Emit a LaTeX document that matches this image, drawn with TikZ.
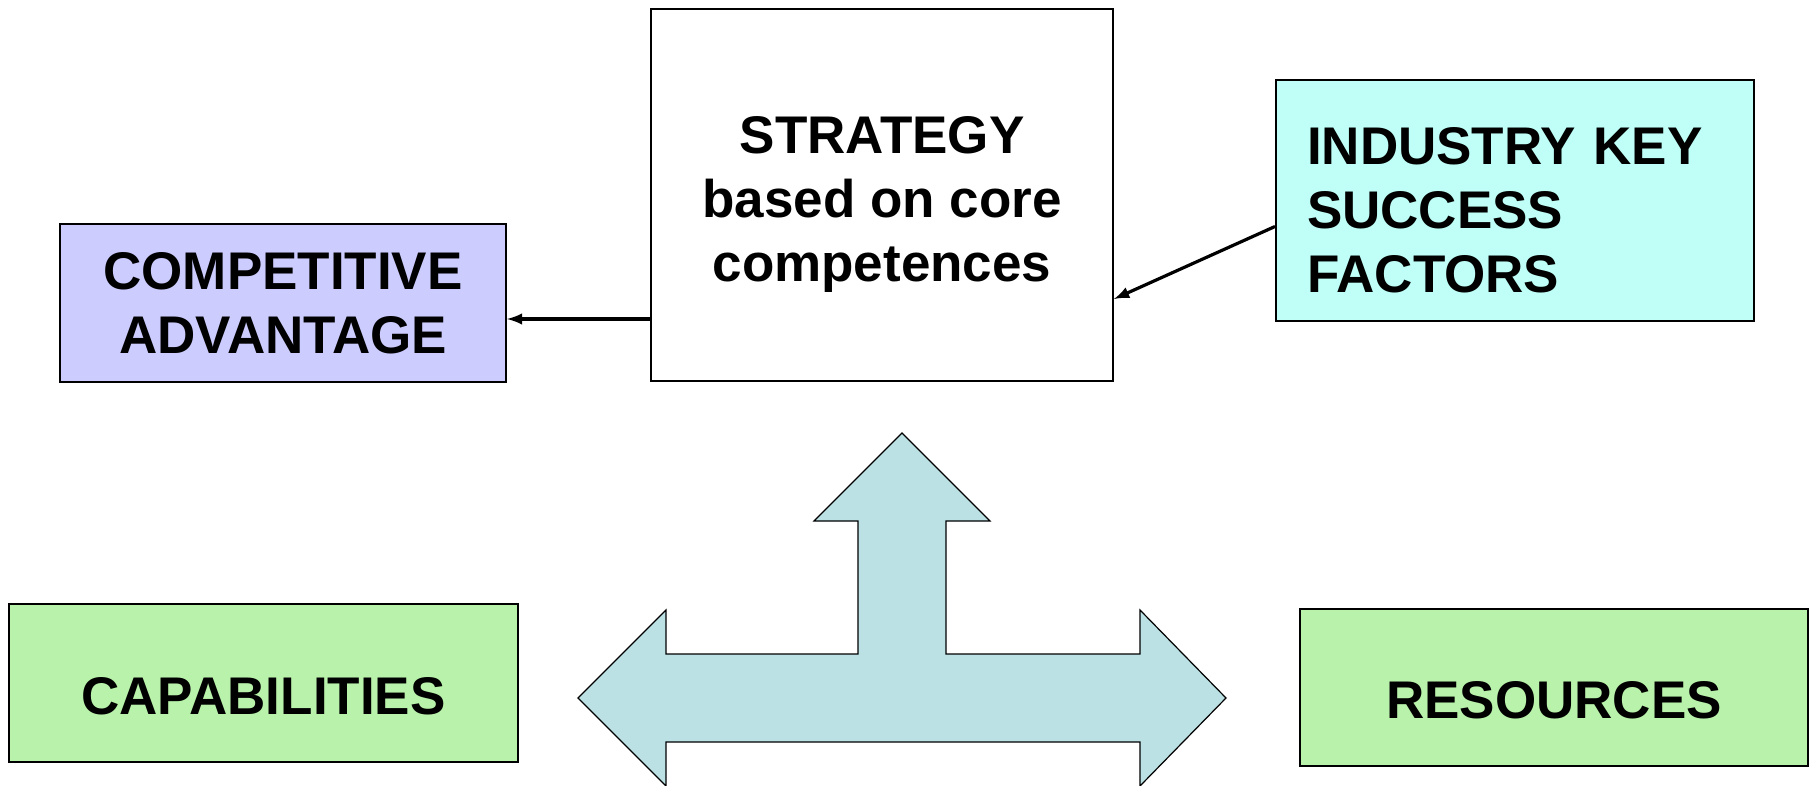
\documentclass[tikz,border=0pt]{standalone}
\usepackage{fontspec}
\setmainfont{Liberation Sans}
\usetikzlibrary{positioning}
\definecolor{advblue}{HTML}{CCCCFF}
\definecolor{ksfcyan}{HTML}{BFFFF8}
\definecolor{capgreen}{HTML}{B9F2AA}
\definecolor{arrowblue}{HTML}{BBE1E4}
\newcommand{\tallstrut}{\rule{0pt}{28pt}}
\tikzset{
	box/.style={draw=black, line width=1pt, inner sep=0pt, align=center,
		font=\bfseries\fontsize{26.5}{32}\selectfont},
	low/.style={text height=31pt, text depth=0pt},
	link/.style={-latex, line width=1.6pt},
}

\begin{document}
\begin{tikzpicture}[x=0.5pt, y=-0.5pt]
		
		\useasboundingbox (0,0) rectangle (1814,786);
		
		\node[box, minimum width=231pt, minimum height=186pt] (strategy) at (882,195)
		{\tallstrut STRATEGY\\based on core\\competences};
		\node[box, fill=advblue, minimum width=223pt, minimum height=79pt] (adv) at (283,303)
		{COMPETITIVE\\ADVANTAGE};
		\node[box, fill=ksfcyan, align=left, text width=208pt, inner xsep=15.5pt, minimum height=120.5pt] (ksf) at (1515,200.5)
		{\tallstrut INDUSTRY KEY\\SUCCESS\\FACTORS};
		\node[box, low, fill=capgreen, minimum width=254.5pt, minimum height=79pt] (cap) at (263.5,683)
		{CAPABILITIES};
		\node[box, low, fill=capgreen, minimum width=254pt, minimum height=78.5pt] (res) at (1554,687.5)
		{RESOURCES};
		
		\draw[link] ([yshift=-8pt]strategy.west |- adv.east) -- ([yshift=-8pt]adv.east);
		\draw[link] ([yshift=-13pt]ksf.west) -- ([yshift=-52pt]strategy.east);
		
		% three-way block arrow
		\draw[fill=arrowblue, line width=0.6pt]
		(902,433) -- (990,521) -- (946,521) -- (946,654) -- (1140,654) -- (1140,610)
		-- (1226,698) -- (1140,786) -- (1140,742) -- (666,742) -- (666,786)
		-- (578,698) -- (666,610) -- (666,654) -- (858,654) -- (858,521) -- (814,521) -- cycle;
		
	\end{tikzpicture}
\end{document}
